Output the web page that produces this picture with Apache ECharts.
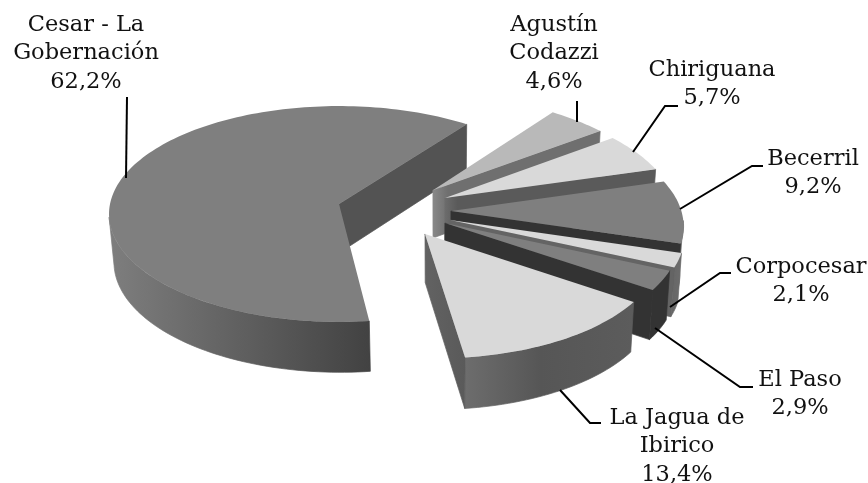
<!DOCTYPE html>
<html><head><meta charset="utf-8">
<style>html,body{margin:0;padding:0;background:#fff}#c{width:868px;height:483px}</style>
<script src="https://cdn.jsdelivr.net/npm/echarts@6/dist/echarts.min.js"></script>
</head><body><div id="c"></div>
<script>
const categories = ['Cesar - La\nGobernación','Agustín\nCodazzi','Chiriguana','Becerril','Corpocesar','El Paso','La Jagua de\nIbirico'];
const shares = [62.2,4.6,5.7,9.2,2.1,2.9,13.4];

// layout / style constants
const CX=339,CY=204,RX=229,RY=107,P=0.0926,START=276.9;
const offsets=[[0,0],[.415,-.13],[.465,-.056],[.486,.065],[.478,.148],[.455,.175],[.366,.273]];
const topFill=['#7f7f7f','#b9b9b9','#d9d9d9','#7f7f7f','#d9d9d9','#7f7f7f','#d9d9d9'];
const wallStops=[[[0,'#535353'],[1,'#535353']],[[0,'#888888'],[.09,'#6f6f6f'],[1,'#6f6f6f']],[[0,'#6c6c6c'],[.06,'#5a5a5a'],[1,'#5a5a5a']],
 [[0,'#333333'],[1,'#333333']],[[0,'#646464'],[1,'#646464']],[[0,'#333333'],[1,'#333333']],[[0,'#626262'],[1,'#5a5a5a']]];
const outerStops=[[[0,'#7e7e7e'],[1,'#424242']],null,null,[[0,'#6a6a6a'],[1,'#707070']],[[0,'#666666'],[1,'#6c6c6c']],[[0,'#333333'],[1,'#333333']],[[0,'#6d6d6d'],[.45,'#565656'],[1,'#5c5c5c']]];
const labelAt=[[86,25],[554,25],[712,70],[813,159],[801,267],[800,380],[677,418]];
const leaders=[[[127,97],[126,178]],[[577,101],[577,122]],[[678,106],[665,106],[633,152]],[[763,166],[752,166],[680,209]],
 [[731,273],[720,273],[670,307]],[[753,387],[740,387],[655,328]],[[601,423],[590,423],[560,390]]];
const FONT='22.5px "DejaVu Serif"', LINE=28.5;

const total=shares.reduce((a,b)=>a+b,0);
// each slice's ccw edge, walking clockwise from the big slice's ccw edge
const ccwEdge=[];
{let a=START; shares.forEach(s=>{ccwEdge.push(a); a-=s/total*360;});}
function proj(u,v){const w=1-P*v;return [CX+RX*u/w,CY+RY*v/w];}
function pt(i,deg){const t=deg*Math.PI/180,o=offsets[i];return proj(o[0]+Math.cos(t),o[1]-Math.sin(t));}
function low(p){return [CX+(p[0]-CX)*.985+1.5,p[1]+48+.02*(p[1]-CY)];}
function arc(i,a,b){const n=Math.max(2,Math.ceil(Math.abs(b-a)/1.5)),r=[];for(let k=0;k<=n;k++)r.push(pt(i,a+(b-a)*k/n));return r;}
function grad(x0,x1,stops){return {type:'linear',x:x0,y:0,x2:x1,y2:0,global:true,colorStops:stops.map(s=>({offset:s[0],color:s[1]}))};}
function poly(points,fill,seam){return {type:'polygon',shape:{points},style:{fill,stroke:seam?fill:null,lineWidth:seam?0.7:0}};}

function renderSlice(params,api){
  const i=params.dataIndex, sh=api.value(0), ch=[];
  const a1=ccwEdge[i], a0=a1-sh/total*360;   // a1 = ccw edge, a0 = clockwise edge
  const apex=proj(offsets[i][0],offsets[i][1]);
  const wallEnd=pt(i,a0);
  // outer wall: the part of the rim that faces the viewer
  if(outerStops[i]){
    const from=i===0?187:a0, to=i===0?a1:Math.min(a1,-5);
    if(to>from){
      const r=arc(i,from,to), xs=r.map(p=>p[0]).concat(r.map(p=>low(p)[0]));
      ch.push(poly(r.concat(r.map(low).reverse()),grad(Math.min(...xs),Math.max(...xs),outerStops[i]),true));
    }
  }
  // radial wall on the clockwise edge of the slice
  ch.push(poly([apex,wallEnd,low(wallEnd),low(apex)],grad(Math.min(apex[0],wallEnd[0]),Math.max(apex[0],wallEnd[0]),wallStops[i]),true));
  // top face
  ch.push(poly([apex].concat(arc(i,a0,a1)),topFill[i],false));
  // leader line and label
  ch.push({type:'polyline',shape:{points:leaders[i]},style:{stroke:'#000',lineWidth:2,fill:null},z2:5});
  const txt=categories[i].split('\n').concat([sh.toFixed(1).replace('.',',')+'%']);
  txt.forEach((t,k)=>ch.push({type:'text',z2:6,style:{text:t,x:labelAt[i][0],y:labelAt[i][1]+k*LINE,align:'center',verticalAlign:'middle',font:FONT,fill:'#111111'}}));
  return {type:'group',children:ch};
}
const chart=echarts.init(document.getElementById('c'),null,{renderer:'canvas'});
chart.setOption({animation:false,backgroundColor:'#fff',
 series:[{type:'custom',coordinateSystem:'none',silent:true,renderItem:renderSlice,data:shares.map(s=>[s]),encode:{value:0}}]});
</script></body></html>
